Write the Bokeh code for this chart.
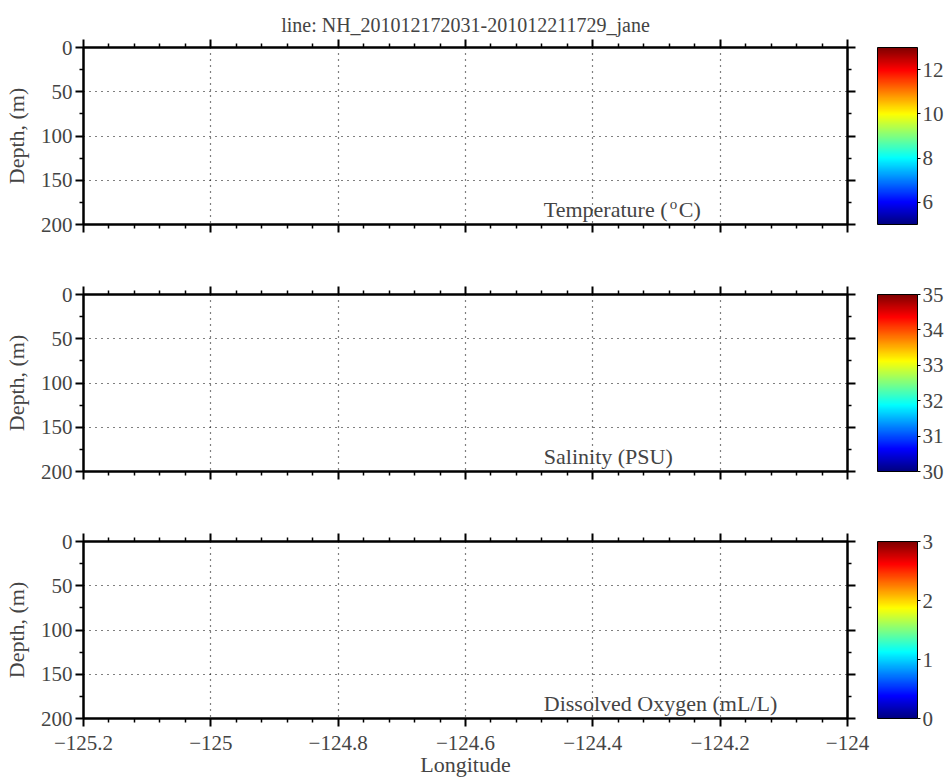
import numpy as np
from bokeh.plotting import figure
from bokeh.layouts import column
from bokeh.models import (Range1d, LinearAxis, FixedTicker, ColorBar, LinearColorMapper,
                          Label, CustomJSTickFormatter)
from bokeh.embed import file_html
from bokeh.resources import INLINE

FONT = "Liberation Serif"

title_text = "line: NH_201012172031-201012211729_jane"
lon_range = (-125.2, -124.0)
depth_range = (200, 0)
lon_ticks = [-125.2, -125.0, -124.8, -124.6, -124.4, -124.2, -124.0]
lon_minor = [-125.16, -125.12, -125.08, -125.04, -124.96, -124.92, -124.88, -124.84,
             -124.76, -124.72, -124.68, -124.64, -124.56, -124.52, -124.48, -124.44,
             -124.36, -124.32, -124.28, -124.24, -124.16, -124.12, -124.08, -124.04]
depth_ticks = [0, 50, 100, 150, 200]
depth_minor = [25, 75, 125, 175]

# one entry per panel
panel_labels = ["Temperature (", "Salinity (PSU)", "Dissolved Oxygen (mL/L)"]
cbar_low = [5, 30, 0]
cbar_high = [13, 35, 3]
cbar_ticks = [[6, 8, 10, 12], [30, 31, 32, 33, 34, 35], [0, 1, 2, 3]]
label_lon = -124.477
label_depth = 183

FW, FH = 764, 177


def jet(n=256):
    cols = []
    for t in np.linspace(0, 1, n):
        r = np.clip(1.5 - abs(4 * t - 3), 0, 1)
        g = np.clip(1.5 - abs(4 * t - 2), 0, 1)
        b = np.clip(1.5 - abs(4 * t - 1), 0, 1)
        cols.append("#%02x%02x%02x" % (int(r * 255), int(g * 255), int(b * 255)))
    return cols


JET = jet()

minus_fmt = CustomJSTickFormatter(code="""
var s = String(Math.round(tick * 10) / 10);
return s.replace('-', '\\u2212');
""")


def style_axis(ax, ticks, minor, labels):
    ax.ticker = FixedTicker(ticks=ticks, minor_ticks=minor)
    ax.axis_line_width = 2
    ax.major_tick_line_width = 2
    ax.minor_tick_line_width = 1.5
    ax.major_tick_out = 8
    ax.major_tick_in = 0
    ax.minor_tick_out = 4
    ax.minor_tick_in = 0
    ax.major_label_text_font = FONT
    ax.axis_label_text_font = FONT
    ax.axis_label_text_font_style = "normal"
    ax.axis_label_text_font_size = "22px"
    if labels:
        ax.major_label_text_font_size = "21px"
        ax.major_label_standoff = 3
    else:
        ax.major_label_text_font_size = "0px"
        ax.major_label_standoff = 0


def make_panel(i, top, bottom, last):
    p = figure(frame_width=FW, frame_height=FH,
               x_range=Range1d(*lon_range), y_range=Range1d(*depth_range),
               output_backend="svg", toolbar_location=None, tools="",
               min_border_left=83, min_border_right=100,
               min_border_top=top, min_border_bottom=bottom)
    p.outline_line_color = "black"
    p.outline_line_width = 2
    p.background_fill_color = "white"

    style_axis(p.xaxis[0], lon_ticks, lon_minor, last)
    p.xaxis[0].formatter = minus_fmt
    if last:
        p.xaxis[0].axis_label = "Longitude"
        p.xaxis[0].major_label_standoff = 9
        p.xaxis[0].axis_label_standoff = -1
    style_axis(p.yaxis[0], depth_ticks, depth_minor, True)
    p.yaxis[0].major_label_standoff = 3
    p.yaxis[0].axis_label = "Depth, (m)"
    p.yaxis[0].axis_label_standoff = 9

    top_ax = LinearAxis()
    style_axis(top_ax, lon_ticks, lon_minor, False)
    p.add_layout(top_ax, "above")
    right_ax = LinearAxis()
    style_axis(right_ax, depth_ticks, depth_minor, False)
    p.add_layout(right_ax, "right")

    for g in (p.xgrid[0], p.ygrid[0]):
        g.grid_line_color = "black"
        g.grid_line_dash = "1 5"
        g.grid_line_width = 1.2
    p.xgrid[0].ticker = FixedTicker(ticks=lon_ticks)
    p.ygrid[0].ticker = FixedTicker(ticks=depth_ticks)

    p.add_layout(Label(x=label_lon, y=label_depth, text=panel_labels[i],
                       text_font=FONT, text_font_size="22px", text_baseline="middle"))
    if i == 0:
        p.add_layout(Label(x=label_lon, y=label_depth - 6, x_offset=126, text="o",
                           text_font=FONT, text_font_size="15px", text_baseline="middle"))
        p.add_layout(Label(x=label_lon, y=label_depth, x_offset=135, text="C)",
                           text_font=FONT, text_font_size="22px", text_baseline="middle"))

    mapper = LinearColorMapper(palette=JET, low=cbar_low[i], high=cbar_high[i])
    cb = ColorBar(color_mapper=mapper, ticker=FixedTicker(ticks=cbar_ticks[i]),
                  location=(794, 0), width=40, height=FH, padding=0, margin=0,
                  orientation="vertical", bar_line_color="black", bar_line_width=1,
                  major_tick_line_color="black", major_tick_in=0, major_tick_out=3,
                  minor_tick_line_color=None,
                  major_label_text_font=FONT, major_label_text_font_size="21px",
                  label_standoff=2, background_fill_alpha=0, border_line_color=None)
    p.add_layout(cb)
    return p


p1 = make_panel(0, 47, 50, False)
p1.title.text = title_text
p1.title.align = "center"
p1.title.text_font = FONT
p1.title.text_font_size = "20px"
p1.title.text_font_style = "normal"
p1.title.standoff = 8
p2 = make_panel(1, 20, 50, False)
p3 = make_panel(2, 20, 63, True)

layout = column(p1, p2, p3, spacing=0)
open("out.html", "w").write(file_html(layout, INLINE))
